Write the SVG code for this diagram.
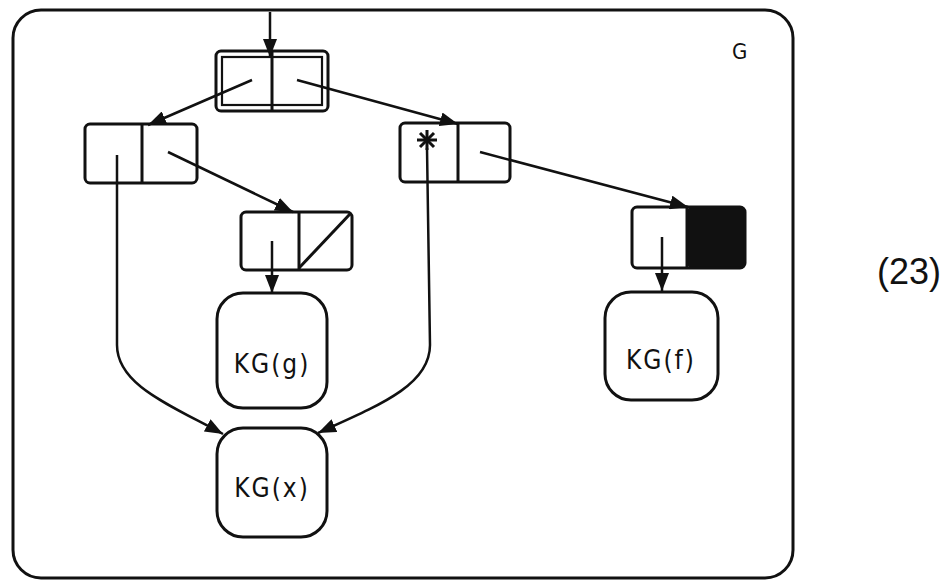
<svg xmlns="http://www.w3.org/2000/svg" width="950" height="583" viewBox="0 0 950 583">
<style>
.s{fill:none;stroke:#111;stroke-width:3;stroke-linejoin:round}
.c{fill:none;stroke:#111;stroke-width:2.2}
.t{font-family:"DejaVu Sans Condensed","Liberation Sans",sans-serif;font-size:26px;fill:#111;letter-spacing:2px}
</style>
<defs>
<marker id="ah" viewBox="0 0 18 14" refX="18" refY="7" markerWidth="18" markerHeight="14" markerUnits="userSpaceOnUse" orient="auto">
<path d="M0,0 L18,7 L0,14 Z" fill="#111"/>
</marker>
</defs>
<rect width="950" height="583" fill="#fff"/>
<rect x="13" y="10" width="780" height="568" rx="28" class="s"/>
<text x="732" y="59" style="font-family:'DejaVu Sans Condensed',sans-serif;font-size:22px;fill:#111">G</text>
<text x="877" y="284" style="font-family:'Liberation Sans',sans-serif;font-size:36px;fill:#111">(23)</text>

<g id="n-top">
<rect x="216" y="51" width="112" height="60" rx="5" class="s"/>
<rect x="222" y="57" width="100" height="48" class="c"/>
<line x1="272" y1="51" x2="272" y2="111" class="s"/>
</g>
<g id="n-left">
<rect x="85" y="124" width="112" height="59" rx="5" class="s"/>
<line x1="142" y1="124" x2="142" y2="183" class="s"/>
</g>
<g id="n-right">
<rect x="400" y="123" width="110" height="59" rx="5" class="s"/>
<line x1="458" y1="123" x2="458" y2="182" class="s"/>
<g stroke="#111" stroke-width="3">
<line x1="417" y1="140" x2="437" y2="140"/>
<line x1="427" y1="130" x2="427" y2="150"/>
<line x1="420" y1="133" x2="434" y2="147"/>
<line x1="434" y1="133" x2="420" y2="147"/>
</g>
</g>
<g id="n-g">
<rect x="241" y="212" width="111" height="58" rx="5" class="s"/>
<line x1="299" y1="212" x2="299" y2="270" class="s"/>
<line x1="299" y1="268" x2="350" y2="214" class="s"/>
</g>
<g id="n-f">
<rect x="687" y="207" width="58" height="61" rx="5" fill="#111"/>
<rect x="632" y="207" width="113" height="61" rx="5" class="s"/>
<line x1="687" y1="207" x2="687" y2="268" class="s"/>
</g>
<g id="kg-g">
<rect x="217" y="293" width="110" height="115" rx="26" class="s"/>
<text x="272" y="373" text-anchor="middle" class="t">KG(g)</text>
</g>
<g id="kg-f">
<rect x="605" y="292" width="113" height="108" rx="26" class="s"/>
<text x="661" y="369" text-anchor="middle" class="t">KG(f)</text>
</g>
<g id="kg-x">
<rect x="217" y="428" width="110" height="109" rx="26" class="s"/>
<text x="272" y="497" text-anchor="middle" class="t">KG(x)</text>
</g>

<g id="connectors" fill="none" stroke="#111" stroke-width="2.5">
<line x1="270" y1="12" x2="270" y2="57" marker-end="url(#ah)"/>
<line x1="252" y1="80" x2="148" y2="125" marker-end="url(#ah)"/>
<line x1="297" y1="80" x2="458" y2="124" marker-end="url(#ah)"/>
<line x1="168" y1="152" x2="293" y2="212" marker-end="url(#ah)"/>
<line x1="480" y1="152" x2="688" y2="207" marker-end="url(#ah)"/>
<line x1="272" y1="241" x2="272" y2="293" marker-end="url(#ah)"/>
<line x1="662" y1="237" x2="662" y2="291" marker-end="url(#ah)"/>
<path d="M117,155 L117,345 C117,385 170,405 223,434" marker-end="url(#ah)"/>
<path d="M427,148 L430,345 C430,385 380,405 318,433" marker-end="url(#ah)"/>
</g>
</svg>
